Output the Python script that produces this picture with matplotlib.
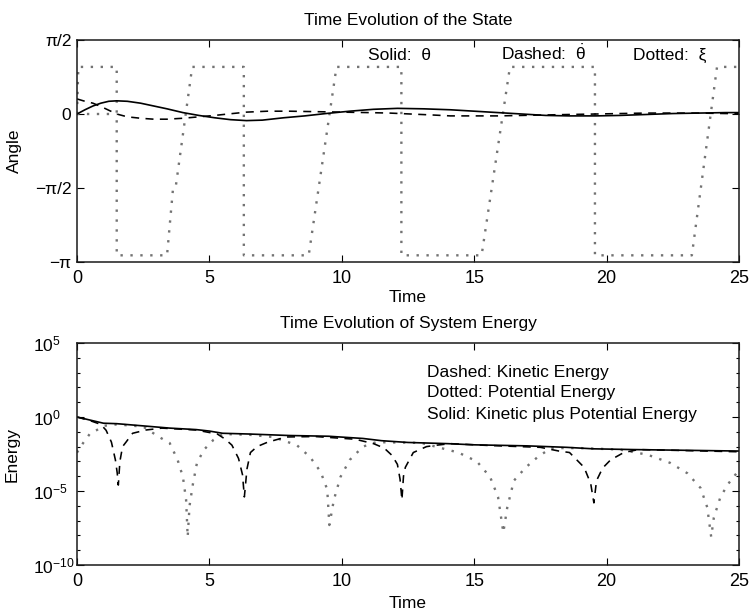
import numpy as np
import matplotlib
matplotlib.use("Agg")
import matplotlib.pyplot as plt

plt.rcParams['font.family'] = ['Liberation Sans', 'DejaVu Sans']
plt.rcParams['mathtext.fontset'] = 'custom'
plt.rcParams['mathtext.rm'] = 'Liberation Sans'
plt.rcParams['mathtext.it'] = 'Liberation Sans:italic'
plt.rcParams['mathtext.bf'] = 'Liberation Sans:bold'

# ---------------- top panel data (angles, rad) ----------------
theta_t = [0, 0.3, 0.6, 0.9, 1.2, 1.5, 1.9, 2.4, 2.9, 3.4, 4.0, 4.6, 5.2, 5.8, 6.4, 7.0,
           7.8, 8.6, 9.4, 10.3, 11.2, 12.1, 13.1, 14.1, 15.0, 15.9, 16.8, 17.7, 18.6,
           19.6, 20.5, 21.5, 22.5, 23.5, 24.5, 25]
theta = [0.0, 0.09, 0.17, 0.23, 0.27, 0.28, 0.27, 0.23, 0.17, 0.11, 0.03, -0.03, -0.08,
         -0.12, -0.14, -0.13, -0.08, -0.04, 0.01, 0.06, 0.10, 0.12, 0.11, 0.09, 0.06, 0.03,
         0.00, -0.03, -0.04, -0.04, -0.03, -0.01, 0.01, 0.02, 0.03, 0.03]

thetadot_t = [0, 0.3, 0.6, 0.9, 1.2, 1.5, 1.9, 2.4, 2.9, 3.4, 4.0, 4.6, 5.2, 5.7, 6.4, 7.2,
              8.0, 9.0, 10.0, 11.0, 11.8, 12.6, 13.4, 14.1, 15.0, 15.9, 16.8, 17.7, 18.6,
              19.6, 20.5, 21.5, 22.5, 23.5, 24.5, 25]
thetadot = [0.32, 0.27, 0.23, 0.16, 0.08, 0.0, -0.06, -0.09, -0.11, -0.11, -0.09, -0.06,
            -0.03, 0.0, 0.04, 0.06, 0.06, 0.05, 0.04, 0.03, 0.02, 0.0, -0.02, -0.04, -0.04,
            -0.04, -0.03, -0.02, -0.01, 0.0, 0.01, 0.02, 0.02, 0.02, 0.01, 0.01]

xi_t = [0, 0.05, 1.5, 1.5, 3.4, 3.62, 3.72, 4.35, 6.3, 6.3, 8.75, 9.8, 12.25, 12.25,
        15.28, 16.35, 19.56, 19.56, 23.22, 24.17, 25]
xi = [0, 1.0, 1.0, -3.0, -3.0, -1.62, -1.58, 1.0, 1.0, -3.0, -3.0, 1.0, 1.0, -3.0,
      -3.0, 1.0, 1.0, -3.0, -3.0, 1.0, 1.0]
xi_ref_t = [0, 1.5]
xi_ref = [0, 0]

angle_ticks = [-np.pi, -np.pi / 2, 0, np.pi / 2]
angle_labels = ['\u2212\u03c0', '\u2212\u03c0/2', '0', '\u03c0/2']
time_ticks = [0, 5, 10, 15, 20, 25]

# ---------------- bottom panel data (log10 of energy) ----------------
tot_t = [0, 1.0, 1.5, 2.5, 3.5, 4.5, 5.0, 5.5, 6.5, 8.0, 9.5, 10.8, 11.5, 12.5, 14,
         15, 17, 18.5, 19.5, 21, 23, 25]
tot_log = [0.0, -0.42, -0.45, -0.6, -0.75, -0.85, -0.95, -1.1, -1.15, -1.25, -1.3,
           -1.45, -1.6, -1.72, -1.8, -1.88, -1.95, -2.05, -2.15, -2.2, -2.25, -2.3]

kin_t = [0, 0.5, 0.9, 1.1, 1.3, 1.45, 1.52, 1.56, 1.62, 1.72, 1.85, 2.1, 2.6, 3.2, 4.5,
         5.3, 5.6, 5.85, 6.1, 6.25, 6.32, 6.42, 6.55, 6.8, 7.2, 7.9, 9.0, 10.5, 11.2, 11.6,
         11.9, 12.1, 12.2, 12.27, 12.33, 12.4, 12.7, 13.2, 13.6, 14.1, 15.5, 17.5, 18.2,
         18.6, 19.15, 19.4, 19.52, 19.62, 19.85, 20.15, 20.65, 21.2, 22.5, 25]
kin_log = [0.0, -0.25, -0.5, -0.9, -1.7, -2.9, -3.8, -4.6, -3.0, -2.0, -1.7, -1.1, -0.88,
           -0.75, -0.88, -1.15, -1.5, -1.9, -2.8, -3.9, -5.4, -3.5, -2.4, -2.0, -1.7, -1.35,
           -1.32, -1.5, -1.8, -2.1, -2.6, -3.2, -4.2, -5.6, -4.0, -3.4, -2.4, -2.0, -1.9,
           -1.8, -1.92, -2.05, -2.3, -2.4, -3.4, -4.5, -5.8, -4.3, -3.45, -2.9, -2.4, -2.2,
           -2.25, -2.35]

pot_t = [0, 0.23, 0.5, 0.75, 1.0, 1.5, 2.5, 3.1, 3.5, 3.8, 4.0, 4.12, 4.18, 4.25, 4.38,
         4.53, 4.8, 5.15, 5.5, 6.5, 7.4, 8.3, 8.8, 9.2, 9.45, 9.53, 9.7, 9.95, 10.3, 10.8,
         11.3, 12.0, 13.0, 14.4, 15.1, 15.6, 15.9, 16.1, 16.25, 16.5, 16.95, 17.4, 17.9,
         19.0, 20.5, 21.55, 22.4, 23.05, 23.55, 23.8, 23.95, 24.05, 24.3, 24.6, 24.95, 25]
pot_log = [-2.4, -1.76, -1.1, -0.88, -0.6, -0.5, -0.65, -1.35, -1.76, -2.9, -4.05, -5.6,
           -8.1, -6.0, -4.5, -3.1, -2.2, -1.55, -1.15, -1.2, -1.35, -1.9, -2.7, -3.7, -4.9,
           -7.3, -5.6, -4.05, -2.9, -2.0, -1.7, -1.72, -1.75, -2.4, -3.0, -4.05, -5.4, -7.8,
           -6.1, -4.3, -3.4, -2.7, -2.1, -2.1, -2.2, -2.55, -3.1, -3.8, -4.8, -6.1, -8.1,
           -6.8, -5.4, -4.5, -3.7, -3.65]

energy_major = [1e-10, 1e-5, 1e0, 1e5]
energy_major_labels = [r'$10^{-10}$', r'$10^{-5}$', r'$10^{0}$', r'$10^{5}$']
energy_minor = [10.0 ** k for k in range(-10, 6) if k % 5 != 0]

# ---------------- figure ----------------
fig = plt.figure(figsize=(7.52, 6.11), dpi=100)
ax1 = fig.add_axes([0.1024, 0.5712, 0.8803, 0.3633])
ax2 = fig.add_axes([0.1024, 0.0753, 0.8803, 0.3633])

dot_style = dict(color='0.45', linestyle=(0, (1, 3.2)), linewidth=1.7)
dash_style = dict(color='black', linestyle=(0, (5, 4)), linewidth=1.15)
solid_style = dict(color='black', linestyle='-', linewidth=1.2)

# top
ax1.plot(xi_t, xi, **dot_style)
ax1.plot(xi_ref_t, xi_ref, **dot_style)
ax1.plot(thetadot_t, thetadot, **dash_style)
ax1.plot(theta_t, theta, **solid_style)
ax1.set_xlim(0, 25)
ax1.set_ylim(-np.pi, np.pi / 2)
ax1.set_xticks(time_ticks)
ax1.set_yticks(angle_ticks)
ax1.set_yticklabels(angle_labels)
ax1.text(0.5, 1.066, 'Time Evolution of the State', transform=ax1.transAxes,
         ha='center', va='baseline', fontsize=12.5)
ax1.set_xlabel('Time', fontsize=12.5)
ax1.set_ylabel('Angle', fontsize=12.5)
ax1.xaxis.set_label_coords(0.5, -0.128)
ax1.yaxis.set_label_coords(-0.083, 0.5)
ax1.text(11.0, 1.15, 'Solid:  \u03b8', fontsize=12.5, va='baseline')
ax1.text(16.0, 1.15, r'Dashed:  $\dot{\mathrm{\theta}}$', fontsize=12.5, va='baseline')
ax1.text(21.0, 1.15, 'Dotted:  \u03be', fontsize=12.5, va='baseline')

# bottom
ax2.semilogy(pot_t, 10.0 ** np.array(pot_log), **dot_style)
ax2.semilogy(kin_t, 10.0 ** np.array(kin_log), **dash_style)
ax2.semilogy(tot_t, 10.0 ** np.array(tot_log), **solid_style)
ax2.set_xlim(0, 25)
ax2.set_ylim(1e-10, 1e5)
ax2.set_xticks(time_ticks)
ax2.set_yticks(energy_major)
ax2.set_yticklabels(energy_major_labels)
ax2.set_yticks(energy_minor, minor=True)
ax2.yaxis.set_minor_formatter(matplotlib.ticker.NullFormatter())
ax2.text(0.5, 1.066, 'Time Evolution of System Energy', transform=ax2.transAxes,
         ha='center', va='baseline', fontsize=12.5)
ax2.set_xlabel('Time', fontsize=12.5)
ax2.set_ylabel('Energy', fontsize=12.5)
ax2.xaxis.set_label_coords(0.5, -0.138)
ax2.yaxis.set_label_coords(-0.086, 0.5)
ax2.text(13.2, 10 ** 2.72, 'Dashed: Kinetic Energy', fontsize=12.5, va='baseline')
ax2.text(13.2, 10 ** 1.33, 'Dotted: Potential Energy', fontsize=12.5, va='baseline')
ax2.text(13.2, 10 ** -0.16, 'Solid: Kinetic plus Potential Energy', fontsize=12.5,
         va='baseline')

for ax in (ax1, ax2):
    ax.tick_params(which='both', direction='in', top=True, right=True, width=0.8)
    ax.tick_params(which='major', length=5)
    ax.tick_params(which='minor', length=2.5)
    ax.tick_params(axis='x', labelsize=13, pad=6)
    ax.tick_params(axis='y', labelsize=12.5, pad=4)
    for s in ax.spines.values():
        s.set_linewidth(1.1)
        s.set_color('0.1')

ax2.tick_params(axis='y', which='major', pad=31.5)
for lab in ax2.get_yticklabels():
    lab.set_horizontalalignment('left')

fig.savefig('out.png', dpi=100)
